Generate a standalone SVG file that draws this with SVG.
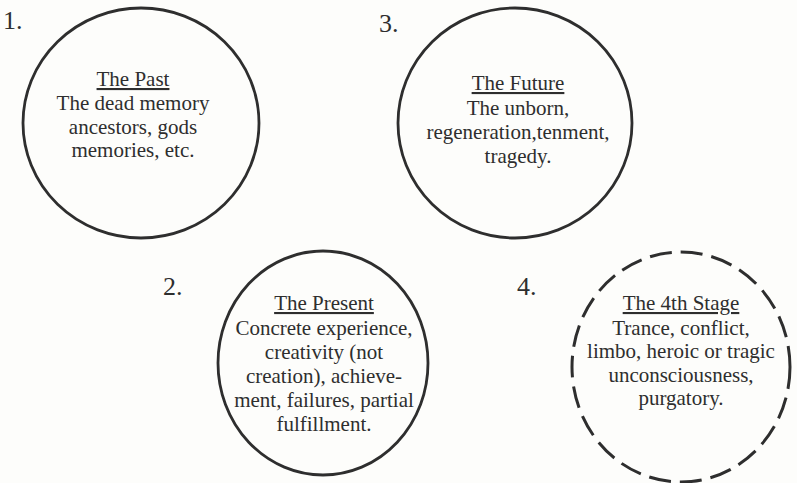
<svg xmlns="http://www.w3.org/2000/svg" width="797" height="483" viewBox="0 0 797 483">
<style>
.c{fill:none;stroke:#2e2e2e;stroke-width:2.8}
.d{stroke-dasharray:22 9;stroke-width:3}
.t{font-family:"Liberation Serif","Times New Roman",serif;font-size:21px;fill:#2e2e2e;text-anchor:middle}
.h{text-decoration:underline}
.n{font-family:"Liberation Serif","Times New Roman",serif;font-size:26px;fill:#2e2e2e}
</style>
<rect width="797" height="483" fill="#fdfdfb"/>
<g id="node-past">
<ellipse class="c" cx="141" cy="123" rx="118" ry="115"/>
<text class="n" x="3" y="29">1.</text>
<text class="t" x="133"><tspan class="h" x="133" y="86">The Past</tspan><tspan x="133" y="110">The dead memory</tspan><tspan x="133" y="134">ancestors, gods</tspan><tspan x="133" y="157">memories, etc.</tspan></text>
</g>
<g id="node-future">
<ellipse class="c" cx="515" cy="123" rx="117" ry="115"/>
<text class="n" x="379" y="32">3.</text>
<text class="t" x="518"><tspan class="h" x="518" y="90">The Future</tspan><tspan x="518" y="115">The unborn,</tspan><tspan x="518" y="139">regeneration,tenment,</tspan><tspan x="518" y="163">tragedy.</tspan></text>
</g>
<g id="node-present">
<ellipse class="c" cx="323" cy="363" rx="105" ry="112"/>
<text class="n" x="163" y="295">2.</text>
<text class="t" x="324"><tspan class="h" x="324" y="310">The Present</tspan><tspan x="324" y="335">Concrete experience,</tspan><tspan x="324" y="359">creativity (not</tspan><tspan x="324" y="383">creation), achieve-</tspan><tspan x="324" y="407">ment, failures, partial</tspan><tspan x="324" y="431">fulfillment.</tspan></text>
</g>
<g id="node-fourth">
<ellipse class="c d" cx="681" cy="367" rx="109" ry="115"/>
<text class="n" x="517" y="295">4.</text>
<text class="t" x="681"><tspan class="h" x="681" y="310">The 4th Stage</tspan><tspan x="681" y="335">Trance, conflict,</tspan><tspan x="681" y="358">limbo, heroic or tragic</tspan><tspan x="681" y="382">unconsciousness,</tspan><tspan x="681" y="405">purgatory.</tspan></text>
</g>
<g id="connectors"></g>
</svg>
